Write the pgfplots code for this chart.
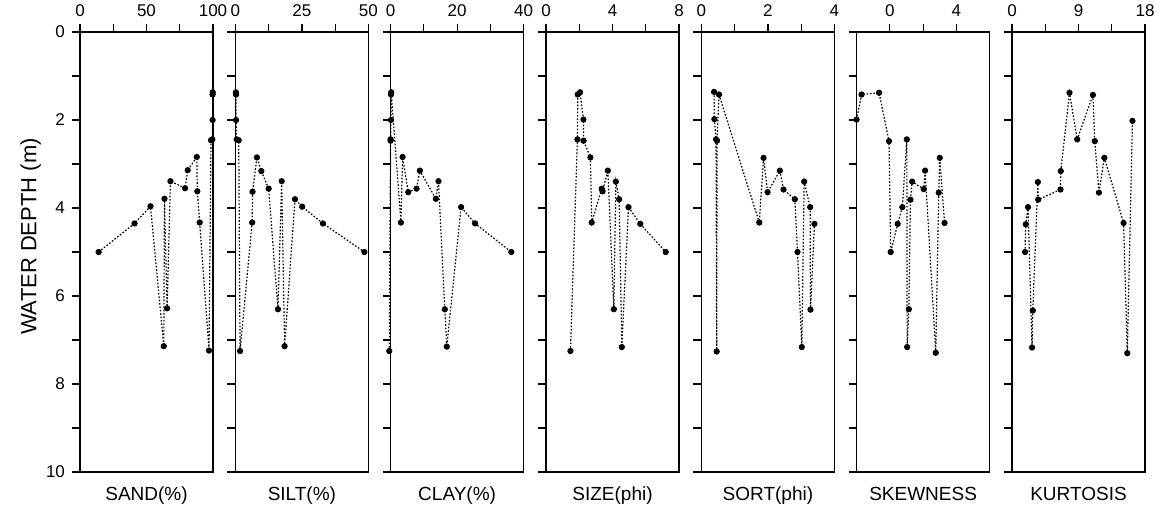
\documentclass[border=0pt]{standalone}
\usepackage{fontspec}
\setmainfont{Liberation Sans}
\usepackage{pgfplots}
\pgfplotsset{compat=1.18}

\pgfplotsset{
  panel/.style={
    scale only axis, width=66.5pt, height=220pt,
    anchor=north west,
    y dir=reverse, ymin=0, ymax=10,
    ytick={0,2,...,10}, minor ytick={1,3,...,9},
    xtick pos=right, xticklabel pos=right, ytick pos=left,
    tick align=outside,
    major tick length=4pt, minor tick length=4pt,
    axis line style={line width=0.8pt},
    every tick/.style={black, line width=0.6pt},
    tick label style={font=\fontsize{8.5}{9}\selectfont},
    /pgf/number format/assume math mode=true,
    xlabel style={at={(axis description cs:0.5,0)}, anchor=north, yshift=-4pt,
      font=\fontsize{9.5}{10}\selectfont},
    clip=false,
  },
  pts/.style={black, line width=0.6pt, dash pattern=on 0.8pt off 0.9pt,
    mark=*, mark size=1.25pt, mark options={solid}},
}

\begin{document}
\begin{tikzpicture}

% sand
\begin{axis}[panel, at={(40pt,-16pt)},
  xmin=0, xmax=100, xtick={0,50,100}, minor xtick={25,75},
  xlabel={SAND(\%)},
  ylabel={WATER DEPTH (m)},
  ylabel style={at={(axis description cs:-0.37,0.535)}, anchor=center,
    font=\fontsize{11}{12}\selectfont},
]
\addplot[pts] coordinates {(14,5.0) (41,4.35) (53,3.96) (63,7.14) (63.5,3.79)
  (65.5,6.28) (68,3.39) (79,3.55) (81,3.14) (87.8,2.84) (88.2,3.62) (90,4.33)
  (97,7.24) (98.5,2.46) (99.5,2.44) (99.7,2.0) (99.7,1.42) (99.8,1.37)};
\end{axis}

% silt
\begin{axis}[panel, at={(117.7pt,-16pt)}, yticklabels={},
  xmin=0, xmax=50, xtick={0,25,50}, minor xtick={12.5,37.5},
  xlabel={SILT(\%)},
]
\addplot[pts] coordinates {(0.2,1.37) (0.25,1.42) (0.25,2.0) (0.5,2.44) (1.25,2.46)
  (1.75,7.25) (6.3,4.33) (6.45,3.63) (8.1,2.85) (9.75,3.16) (12.5,3.56) (16,6.30)
  (17.4,3.39) (18.5,7.14) (22.4,3.80) (25.1,3.97) (32.9,4.35) (48.5,5.0)};
\end{axis}

% clay
\begin{axis}[panel, at={(195.3pt,-16pt)}, yticklabels={},
  xmin=0, xmax=40, xtick={0,20,40}, minor xtick={10,30},
  xlabel={CLAY(\%)},
]
\addplot[pts] coordinates {(-0.4,7.25) (0,2.44) (0,2.47) (0.1,2.0) (0.1,1.42)
  (0.2,1.37) (3.1,4.33) (3.6,2.84) (5.3,3.64) (7.8,3.56) (8.8,3.15) (13.6,3.79)
  (14.4,3.39) (16.3,6.30) (16.9,7.15) (21.2,3.98) (25.4,4.35) (36.3,5.0)};
\end{axis}

% mean size
\begin{axis}[panel, at={(273pt,-16pt)}, yticklabels={},
  xmin=0, xmax=8, xtick={0,4,8}, minor xtick={2,6},
  xlabel={SIZE(phi)},
]
\addplot[pts] coordinates {(1.47,7.25) (1.89,2.44) (1.91,1.42) (2.05,1.37)
  (2.25,1.99) (2.26,2.47) (2.67,2.85) (2.75,4.33) (3.35,3.56) (3.4,3.62)
  (3.72,3.15) (4.08,6.30) (4.2,3.40) (4.4,3.80) (4.56,7.16) (4.96,3.98)
  (5.67,4.36) (7.2,5.0)};
\end{axis}

% sorting
\begin{axis}[panel, at={(350.7pt,-16pt)}, yticklabels={},
  xmin=0, xmax=4, xtick={0,2,4}, minor xtick={1,3},
  xlabel={SORT(phi)},
]
\addplot[pts] coordinates {(0.38,1.36) (0.39,1.98) (0.44,2.44) (0.46,7.26)
  (0.47,2.47) (0.53,1.42) (1.74,4.33) (1.87,2.86) (1.99,3.64) (2.36,3.15)
  (2.47,3.58) (2.81,3.80) (2.89,5.0) (3.02,7.16) (3.09,3.40) (3.27,3.98)
  (3.28,6.31) (3.40,4.36)};
\end{axis}

% skewness
\begin{axis}[panel, at={(428.3pt,-16pt)}, yticklabels={},
  xmin=-2, xmax=6, xtick={0,4}, minor xtick={2},
  xlabel={SKEWNESS},
]
\addplot[pts] coordinates {(-2.0,1.99) (-1.70,1.42) (-0.65,1.38) (-0.05,2.48)
  (0.05,5.0) (0.47,4.36) (0.75,3.98) (1.02,2.44) (1.04,7.16) (1.14,6.30)
  (1.24,3.81) (1.34,3.40) (2.04,3.57) (2.12,3.15) (2.76,7.29) (2.94,3.65)
  (3.0,2.86) (3.29,4.34)};
\end{axis}

% kurtosis
\begin{axis}[panel, at={(506pt,-16pt)}, yticklabels={},
  xmin=0, xmax=18, xtick={0,9,18}, minor xtick={4.5,13.5},
  xlabel={KURTOSIS},
]
\addplot[pts] coordinates {(1.76,5.0) (1.86,4.37) (2.17,3.98) (2.71,7.17)
  (2.81,6.33) (3.5,3.41) (3.55,3.81) (6.56,3.58) (6.6,3.16) (7.78,1.38)
  (8.82,2.44) (10.95,1.43) (11.2,2.48) (11.76,3.65) (12.5,2.86) (15.1,4.34)
  (15.6,7.30) (16.3,2.02)};
\end{axis}

\pgfresetboundingbox
\path[use as bounding box] (0,0) rectangle (582.5pt,-255.5pt);
\end{tikzpicture}
\end{document}
